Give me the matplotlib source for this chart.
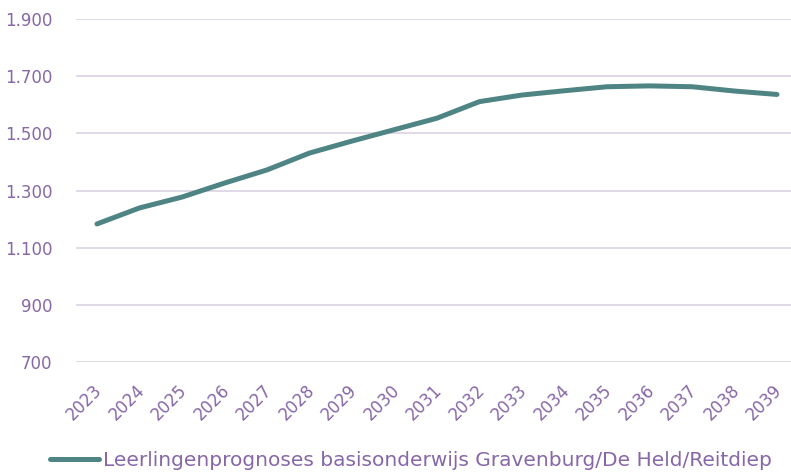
import matplotlib.pyplot as plt
from matplotlib.ticker import FuncFormatter
from matplotlib.transforms import ScaledTranslation

# --- Data ---
years = ['2023', '2024', '2025', '2026', '2027', '2028', '2029', '2030', '2031',
         '2032', '2033', '2034', '2035', '2036', '2037', '2038', '2039']
leerlingen = [1183, 1239, 1277, 1326, 1372, 1431, 1473, 1513, 1553,
              1611, 1634, 1649, 1663, 1666, 1663, 1648, 1636]
y_ticks = [700, 900, 1100, 1300, 1500, 1700, 1900]
series_label = 'Leerlingenprognoses basisonderwijs Gravenburg/De Held/Reitdiep'

LINE_COLOR = '#4E8584'
TEXT_COLOR = '#8767A8'
GRID_COLOR = '#DCD5E6'

plt.rcParams['font.family'] = ['DejaVu Sans']

fig = plt.figure(figsize=(7.91, 4.72), dpi=100)
ax = fig.add_axes([75.75 / 791, 110 / 472, 722.5 / 791, 343 / 472])

x = list(range(len(years)))
line, = ax.plot(x, leerlingen, color=LINE_COLOR, linewidth=3.6,
                solid_capstyle='round', label=series_label)

ax.set_xlim(-0.5, len(years) - 0.5)
ax.set_ylim(700, 1900)
ax.set_yticks(y_ticks)
ax.yaxis.set_major_formatter(FuncFormatter(lambda v, p: f'{int(v):,}'.replace(',', '.')))
ax.set_xticks(x)
ax.set_xticklabels(years, rotation=45, ha='right', va='top', rotation_mode='anchor')

ax.grid(axis='y', color=GRID_COLOR, linewidth=1.3)
ax.set_axisbelow(True)
for s in ax.spines.values():
    s.set_visible(False)
ax.tick_params(axis='both', length=0, colors=TEXT_COLOR)
ax.tick_params(axis='y', labelsize=12, pad=17)
ax.tick_params(axis='x', labelsize=12, pad=14)

# nudge the rotated year labels slightly left
shift = ScaledTranslation(-4 / 100, 0, fig.dpi_scale_trans)
for lbl in ax.get_xticklabels():
    lbl.set_transform(lbl.get_transform() + shift)

fig.legend(handles=[line], loc='center', bbox_to_anchor=(411 / 791, 11 / 472),
           frameon=False, fontsize=14.5, handlelength=2.4, handletextpad=0.2,
           labelcolor=TEXT_COLOR)

fig.savefig('out.png', dpi=100)
